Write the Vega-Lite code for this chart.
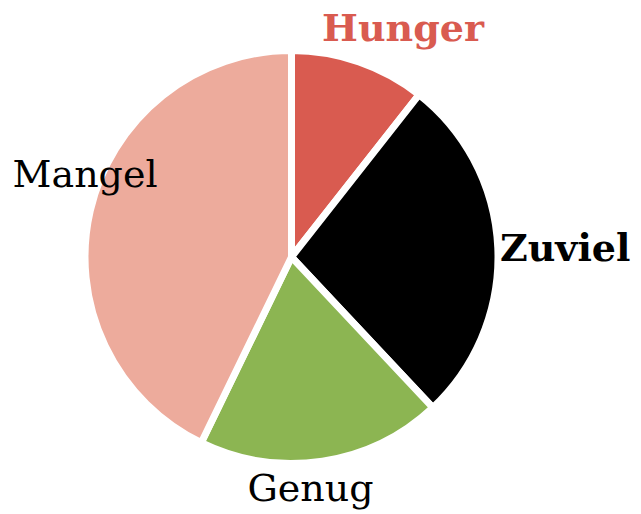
{
  "$schema": "https://vega.github.io/schema/vega-lite/v6.json",
  "width": 583,
  "height": 514,
  "autosize": "none",
  "padding": {"left": 0, "right": 58, "top": 0, "bottom": 0},
  "background": "white",
  "config": {"view": {"stroke": null}, "text": {"font": "DejaVu Serif"}},
  "data": {"values": [
    {"cat": "Hunger", "order": 1, "value": 10.6},
    {"cat": "Zuviel", "order": 2, "value": 27.4},
    {"cat": "Genug", "order": 3, "value": 19.2},
    {"cat": "Mangel", "order": 4, "value": 42.8}
  ]},
  "encoding": {
    "theta": {"field": "value", "type": "quantitative", "stack": true},
    "order": {"field": "order", "type": "quantitative"}
  },
  "layer": [
    {
      "mark": {"type": "arc", "outerRadius": 206.5, "stroke": "white", "strokeWidth": 7},
      "encoding": {
        "color": {"field": "cat", "type": "nominal", "legend": null,
          "scale": {"domain": ["Hunger", "Zuviel", "Genug", "Mangel"], "range": ["#d95b50", "#000000", "#8cb552", "#edab9c"]}}
      }
    },
    {
      "mark": {"type": "text", "radius": 240, "dx": 33, "dy": 0, "fontSize": 38, "fontWeight": "bold", "color": "#d95b50"},
      "encoding": {"text": {"condition": {"test": "datum.cat === 'Hunger'", "field": "cat"}, "value": ""}}
    },
    {
      "mark": {"type": "text", "radius": 273, "dx": 1, "dy": 5, "fontSize": 38, "fontWeight": "bold", "color": "#000000"},
      "encoding": {"text": {"condition": {"test": "datum.cat === 'Zuviel'", "field": "cat"}, "value": ""}}
    },
    {
      "mark": {"type": "text", "radius": 233, "dx": -16, "dy": 3, "fontSize": 38, "color": "#000000"},
      "encoding": {"text": {"condition": {"test": "datum.cat === 'Genug'", "field": "cat"}, "value": ""}}
    },
    {
      "mark": {"type": "text", "radius": 219, "dx": 7, "dy": -32, "fontSize": 38, "color": "#000000"},
      "encoding": {"text": {"condition": {"test": "datum.cat === 'Mangel'", "field": "cat"}, "value": ""}}
    }
  ]
}
